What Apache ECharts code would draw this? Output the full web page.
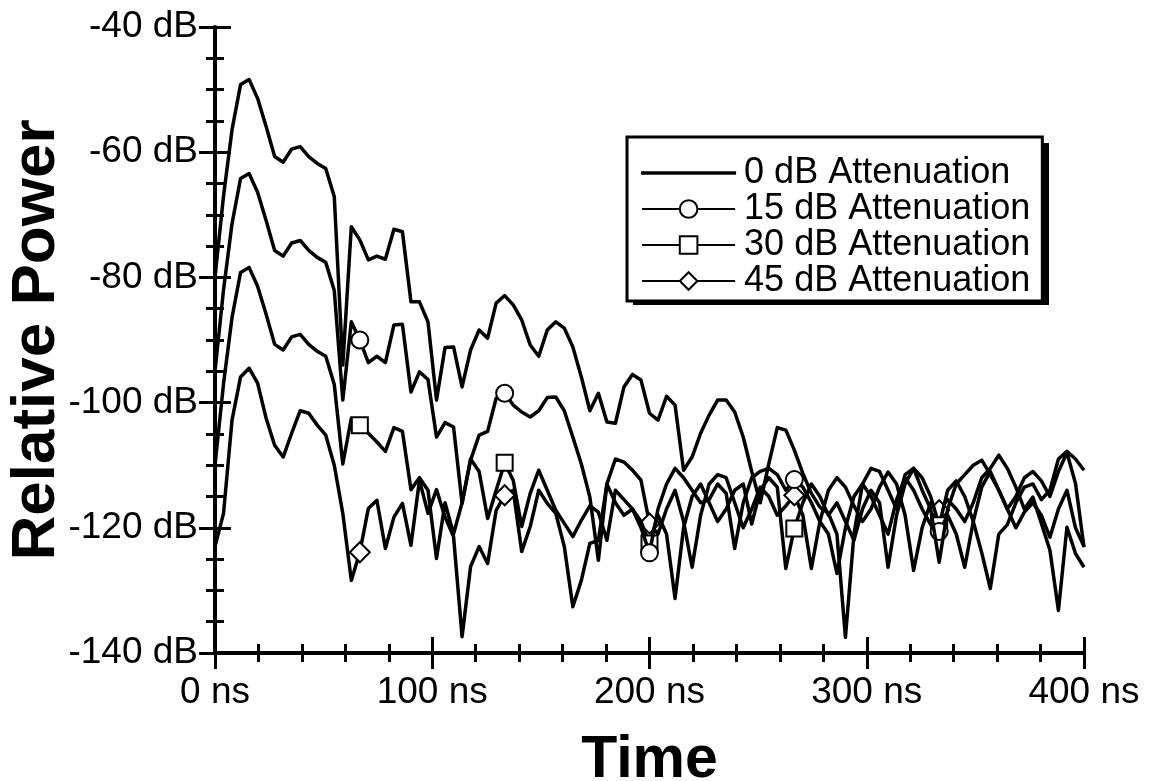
<!DOCTYPE html>
<html>
<head>
<meta charset="utf-8">
<script src="https://cdn.jsdelivr.net/npm/echarts@6/dist/echarts.min.js"></script>
<style>
  html, body { margin: 0; padding: 0; background: #fff; }
  #chart { width: 1150px; height: 781px; }
</style>
</head>
<body>
<div id="chart"></div>
<script>
// Impulse response samples: 103 points spanning 0..400 ns
const STEP_NS = 400 / 102;
const MARK_EVERY = 17;

const seriesNames = ['0 dB Attenuation', '15 dB Attenuation', '30 dB Attenuation', '45 dB Attenuation'];
const seriesSymbols = ['none', 'emptyCircle', 'emptyRect', 'emptyDiamond'];

const att0 = [
  -80, -67, -56.4, -49.2, -48.4, -51.4, -55.9, -60.7, -61.6, -59.5,
  -59.1, -60.7, -61.8, -62.6, -67.1, -94, -71.9, -74, -77.2, -76.6,
  -77.1, -72.3, -72.7, -83.9, -83.9, -87.1, -99.6, -91.2, -91.1, -97.5,
  -91.6, -88.4, -89.7, -84.1, -82.9, -84.4, -86.8, -90.8, -92.6, -88.4,
  -87.1, -88.1, -91.1, -95.9, -101.3, -98.5, -103.1, -103.3, -97.5, -95.5,
  -96.4, -101.7, -102.8, -99, -100.4, -110.8, -108.7, -104.9, -102, -99.6,
  -99.6, -101.5, -105.5, -111, -116, -109.8, -104, -104.4, -107.6, -111.3,
  -114.5, -116.7, -117.7, -121, -137.5, -121, -113, -110.5, -111, -114,
  -117, -111.5, -110.5, -114, -117, -125.5, -117, -113, -111.5, -110,
  -109.2, -111.5, -114, -117, -120, -117.5, -116, -118, -121.5, -117,
  -114, -120, -123
];

const att15 = [
  -95, -82, -71.4, -64.2, -63.4, -66.4, -70.9, -75.7, -76.6, -74.5,
  -74.1, -75.7, -76.8, -77.6, -82.1, -99.6, -87.1, -90, -93.6, -92.6,
  -93.6, -87.6, -87.5, -98.3, -95.1, -96.3, -105.5, -103.2, -103.9, -116.1,
  -109.2, -105.2, -104.6, -99.3, -98.5, -100.4, -101.5, -102.3, -101.3, -99.2,
  -99.1, -101.3, -105.5, -109.8, -115.1, -125.2, -113, -116, -118, -117,
  -120, -124, -117, -113, -110.5, -112, -114, -116, -115.5, -113,
  -114.5, -123.3, -116, -112, -111, -110.5, -111.5, -114, -112.3, -113.5,
  -116, -119, -121, -127.3, -120, -115, -113, -115, -118, -121,
  -115.5, -112, -114, -117, -119.5, -120.6, -118, -121, -126.3, -119,
  -113.5, -111, -114, -117, -115, -112, -111, -112.5, -115, -111,
  -108, -112.9, -123.1
];

const att30 = [
  -110, -97, -86.4, -79.2, -78.4, -81.4, -85.9, -90.7, -91.6, -89.5,
  -89.1, -90.7, -91.8, -92.6, -97.1, -109.8, -102.5, -103.6, -104.9, -106.3,
  -107.8, -104, -104.6, -113.9, -112, -114, -124.9, -116, -121, -116,
  -109, -111, -118.5, -114, -109.6, -112.4, -119.8, -114.5, -110.8, -114,
  -117.2, -119.3, -121.4, -118.8, -116.5, -117.5, -122, -114, -115.5, -117,
  -119, -122.5, -118, -121, -131.3, -120, -115, -113, -116, -119,
  -117, -114, -113, -119.4, -114, -112, -113.5, -126.5, -120.1, -116,
  -113, -115, -118, -116, -119, -122, -117, -114, -116, -126.3,
  -118, -113, -110.5, -112, -115, -119.6, -114, -112.5, -115, -119,
  -124, -129.7, -121, -119.5, -116, -113.5, -113, -115.5, -114, -109,
  -107.8, -109, -110.8
];

const att45 = [
  -123, -117.7, -102.8, -95.9, -94.5, -96.9, -102.5, -106.8, -108.7, -104.9,
  -101.3, -101.7, -103.6, -105.2, -110, -117.7, -128.4, -123.9, -116.9, -115.6,
  -123.3, -118.3, -116.1, -122.8, -112.4, -117.7, -113.9, -118.3, -121.4, -137.4,
  -126.2, -123, -125.7, -117.2, -114.8, -114, -123.8, -119.8, -114, -116.1,
  -117.7, -123, -132.6, -128.4, -122.5, -122, -113, -109, -109.5, -110.8,
  -112.4, -119.3, -121, -117, -114, -119, -126.3, -118, -113, -111.5,
  -112, -116, -120, -117, -113.5, -115, -118, -116.5, -114.8, -118,
  -126.5, -119, -114, -112, -113.5, -116.5, -119, -117, -113.5, -111.1,
  -113, -118, -126.8, -120, -116, -117.2, -115.5, -117, -119, -116,
  -112, -110.5, -108.4, -110.5, -113.5, -117, -115.1, -119.3, -123.6, -133.2,
  -119.9, -124.1, -126.3
];

const seriesValues = [att0, att15, att30, att45];
const symbolSizes = [0, 17, 16, [20, 20]];

const FONT = '"Liberation Sans", Arial, Helvetica, sans-serif';

// Pair each sample with its time; markers only on every 17th sample
function buildData(values, symbol) {
  return values.map(function (v, k) {
    const item = { value: [k * STEP_NS, v] };
    const marked = symbol !== 'none' && k > 0 && k < values.length - 1 && k % MARK_EVERY === 0;
    if (!marked) item.symbol = 'none';
    return item;
  });
}

const series = seriesValues.map(function (vals, i) {
  return {
    name: seriesNames[i],
    type: 'line',
    xAxisIndex: 0,
    yAxisIndex: 0,
    data: buildData(vals, seriesSymbols[i]),
    symbol: seriesSymbols[i],
    symbolSize: symbolSizes[i],
    showSymbol: true,
    smooth: false,
    z: 10 - i,
    lineStyle: { color: '#000', width: 3.5, join: 'round' },
    itemStyle: { color: '#000', borderColor: '#000', borderWidth: 2.5 },
    emphasis: { disabled: true }
  };
});

const tickStyle = { color: '#000', width: 3 };

function xAxisDef(inside, primary) {
  return {
    type: 'value', gridIndex: 0, position: 'bottom',
    min: 0, max: 400, interval: 100,
    axisLine: { show: primary, onZero: false, lineStyle: { color: '#000', width: 4 } },
    axisTick: { show: true, inside: inside, length: 16, lineStyle: tickStyle },
    minorTick: { show: true, splitNumber: 5, length: 9, lineStyle: tickStyle },
    splitLine: { show: false },
    axisLabel: {
      show: primary, margin: 21, color: '#000', fontSize: 37, fontFamily: FONT,
      formatter: function (v) { return v + ' ns'; }
    },
    name: primary ? 'Time' : '',
    nameLocation: 'middle',
    nameGap: 78,
    nameMoveOverlap: false,
    nameTextStyle: { color: '#000', fontSize: 59, fontWeight: 'bold', fontFamily: FONT }
  };
}

function yAxisDef(inside, primary) {
  return {
    type: 'value', gridIndex: 0, position: 'left',
    min: -140, max: -40, interval: 20,
    axisLine: { show: primary, onZero: false, lineStyle: { color: '#000', width: 4 } },
    axisTick: { show: true, inside: inside, length: 16, lineStyle: tickStyle },
    minorTick: { show: true, splitNumber: 4, length: 9, lineStyle: tickStyle },
    splitLine: { show: false },
    axisLabel: {
      show: primary, margin: 17, color: '#000', fontSize: 37, fontFamily: FONT,
      formatter: function (v) { return v + ' dB'; }
    },
    name: primary ? 'Relative Power' : '',
    nameLocation: 'middle',
    nameGap: 147,
    nameMoveOverlap: false,
    nameTextStyle: { color: '#000', fontSize: 62, fontWeight: 'bold', fontFamily: FONT }
  };
}

// Legend frame geometry and its offset drop shadow
const LEGEND_LEFT = 627, LEGEND_TOP = 137, LEGEND_W = 416, LEGEND_H = 162, SHADOW = 6;

const chart = echarts.init(document.getElementById('chart'), null, { renderer: 'canvas' });
chart.setOption({
  animation: false,
  backgroundColor: '#fff',
  grid: { left: 215, top: 27, width: 869, height: 626, containLabel: false, outerBoundsMode: 'none' },
  xAxis: [xAxisDef(true, true), xAxisDef(false, false)],
  yAxis: [yAxisDef(true, true), yAxisDef(false, false)],
  graphic: [{
    type: 'rect',
    z: 1,
    left: LEGEND_LEFT + SHADOW,
    top: LEGEND_TOP + SHADOW,
    shape: { width: LEGEND_W, height: LEGEND_H },
    style: { fill: '#000' },
    silent: true
  }],
  legend: {
    orient: 'vertical',
    left: LEGEND_LEFT,
    top: LEGEND_TOP,
    z: 5,
    data: [
      { name: seriesNames[0], icon: 'path://M0,0L93,0L93,1.6L0,1.6Z' },
      { name: seriesNames[1] },
      { name: seriesNames[2] },
      { name: seriesNames[3] }
    ],
    itemWidth: 93,
    itemHeight: 22,
    itemGap: 0,
    padding: [18, 12, 2, 14],
    backgroundColor: '#fff',
    borderColor: '#000',
    borderWidth: 3,
    borderRadius: 0,
    selectedMode: false,
    lineStyle: { width: 2.2 },
    textStyle: { color: '#000', fontSize: 36, lineHeight: 34, fontFamily: FONT, padding: [0, 0, 0, 4] }
  },
  series: series
});
</script>
</body>
</html>
